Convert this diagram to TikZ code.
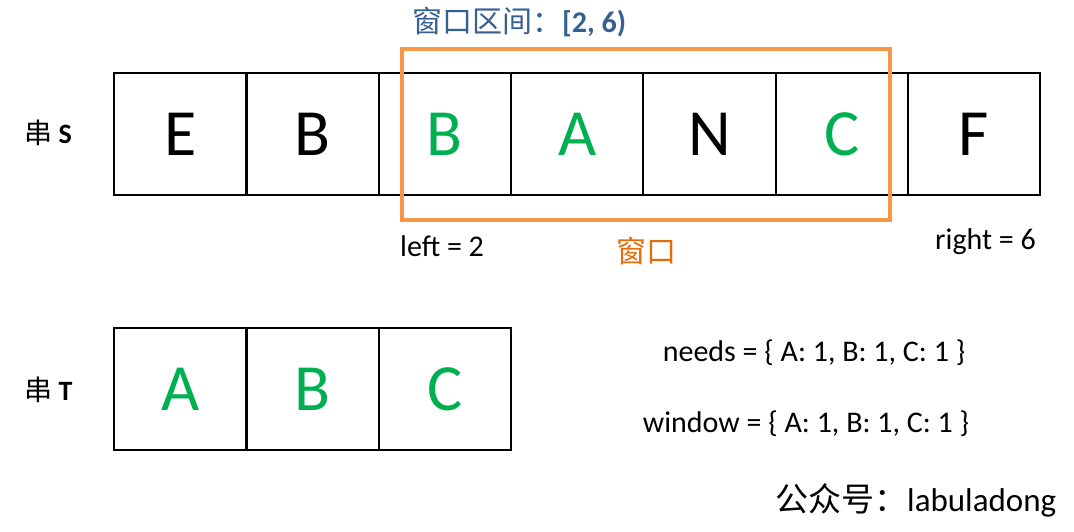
\documentclass[tikz,border=0pt]{standalone}
\usepackage{fontspec}
\setmainfont{Carlito}
\newfontfamily\cjk{Noto Sans CJK SC}
\definecolor{grn}{HTML}{00B050}
\definecolor{orng}{HTML}{F79646}
\definecolor{dorng}{HTML}{E46C0A}
\definecolor{blu}{HTML}{376092}
\begin{document}
\begin{tikzpicture}[x=1pt,y=-1pt,
  cell/.style={draw=black,line width=2.2pt,minimum width=132.3pt,minimum height=122pt,inner sep=0pt,anchor=north west,font=\fontsize{66}{66}\selectfont},
  lbl/.style={font=\fontsize{30}{30}\selectfont,inner sep=0pt},
  g/.style={text=grn}]
\useasboundingbox (0,0) rectangle (1074,531);
% string S
\node[cell] (s0) at (113,72) {E};
\node[cell] (s1) at (245.3,72) {B};
\node[cell,g] (s2) at (377.6,72) {B};
\node[cell,g] (s3) at (509.9,72) {A};
\node[cell] (s4) at (642.2,72) {N};
\node[cell,g] (s5) at (774.5,72) {C};
\node[cell] (s6) at (906.8,72) {F};
% string T
\node[cell,g] (t0) at (113,327) {A};
\node[cell,g] (t1) at (245.3,327) {B};
\node[cell,g] (t2) at (377.6,327) {C};
% window
\node[draw=orng,line width=4pt,minimum width=488pt,minimum height=171pt,anchor=north west,inner sep=0pt] (win) at (400,47) {};
% labels
\node[anchor=west,inner sep=0pt,font=\fontsize{28}{28}\selectfont] (ls) at (24,133) {{\cjk 串} \textbf{S}};
\node[anchor=west,inner sep=0pt,font=\fontsize{28}{28}\selectfont] (lt) at (24,390) {{\cjk 串} \textbf{T}};
\node[lbl,anchor=west,text=blu] (title) at (412,22) {{\cjk 窗口区间：}\textbf{[2, 6)}};
\node[lbl,anchor=west] (left) at (400,246) {left = 2};
\node[lbl,anchor=west] (right) at (935,242) {right = 6};
\node[lbl,anchor=west,text=dorng] (wl) at (616,251) {\cjk 窗口};
\node[lbl] (needs) at (814,353) {needs = \{ A: 1, B: 1, C: 1 \}};
\node[lbl] (window) at (806,424) {window = \{ A: 1, B: 1, C: 1 \}};
\node[anchor=west,inner sep=0pt,font=\fontsize{33}{33}\selectfont] (wx) at (775,500) {{\cjk 公众号：}labuladong};
\end{tikzpicture}
\end{document}
